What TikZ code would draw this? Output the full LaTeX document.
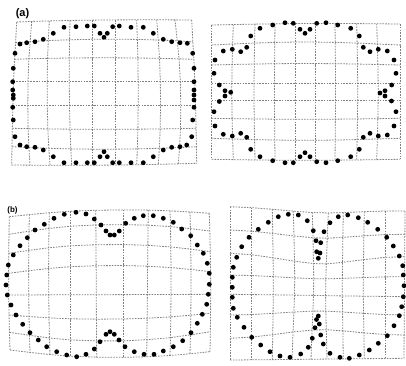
\documentclass[tikz,border=0pt]{standalone}
\usepackage{fontspec}
\setsansfont{Liberation Sans}
\tikzset{
  gridline/.style={draw=black!50, line width=0.8pt, dash pattern=on 1.6pt off 1.2pt},
  dotmark/.style={circle, fill=black, inner sep=0pt, minimum size=4.8pt},
  panellabel/.style={inner sep=0pt, font=\sffamily\bfseries}
}
% #1 name, #2 top x of columns, #3 bottom x of columns, #4 column bow,
% #5 left y of rows, #6 right y of rows, #7 row bow, #8 bow exponent
\newcommand\gridpanel[8]{%
  \foreach \i in {0,...,9}{%
    \foreach \j in {0,...,7}{%
      \pgfmathsetmacro\gu{\i/9}%
      \pgfmathsetmacro\gv{\j/7}%
      \pgfmathsetmacro\gx{{#2}[\i]+({#3}[\i]-{#2}[\i])*\gv+{#4}[\i]*sin(180*\gv)}%
      \pgfmathsetmacro\gy{{#5}[\j]+({#6}[\j]-{#5}[\j])*\gu+{#7}[\j]*pow(abs(sin(180*\gu)),#8)}%
      \coordinate (#1-\i-\j) at (\gx,\gy);
    }%
  }%
  \foreach \j in {0,...,7}{%
    \draw[gridline] (#1-0-\j) \foreach \i in {1,...,9}{ -- (#1-\i-\j)};
  }%
  \foreach \i in {0,...,9}{%
    \draw[gridline] (#1-\i-0) \foreach \j in {1,...,7}{ -- (#1-\i-\j)};
  }%
}
\newcommand\dotset[2]{%
  \foreach \px/\py [count=\k] in {#2}{\node[dotmark] (#1-d\k) at (\px,\py) {};}%
}
\begin{document}
\begin{tikzpicture}[x=1pt,y=-1pt]
\useasboundingbox (0,0) rectangle (406,365);
\fill[white] (0,0) rectangle (406,365);

% ---------- (a) left ----------
\gridpanel{A}
 {16.7,31.7,49.3,70,92.7,115,136.7,156.7,175,191.7}
 {11.7,30,50,71.7,92.7,115,136.7,158.3,178.3,196.7}
 {-1,-3,-2.5,-1.5,0,0,1.5,3,4,1}
 {22,42.7,59.3,81,105,128.3,146.7,165}
 {20,41.7,59.3,81,105,128.3,146.7,163.3}
 {-1,-3,-1.5,0,0,1,2.5,1}
 {1}
\dotset{A}{53.3/33.3,64/27.3,76/26.7,87.3/26,94.3/26,100/33.3,104/37.3,107.3/33.3,112.7/26.7,119.3/26,131/27.3,143.3/27.3,153.3/33.3,
163.3/39.3,171.7/41.7,180/42.7,187.3/43.3,192.7/53.3,194/68.3,194/81.7,194/90,194/95,194/100,194/107.3,192.7/120,191.7/136.7,186.7/145,180/146.7,171.7/147.3,163.3/150,153.3/156.7,
143.3/162.7,131/162.7,119.3/162.7,112.7/162.7,107.3/156.7,104/151.7,100/156.7,94.3/162.7,87.3/162.7,76/162.7,64/162.7,53.3/156.7,
43.3/150,35/147.3,26.7/146.7,20/145,15/136.7,13.3/120,12.7/107.3,13.3/98.3,13.3/95,12.7/90,12.7/81.7,13.3/68.3,15/53.3,20/44,26.7/42.7,35/41.7,43.3/39.3}

% ---------- (a) right ----------
\gridpanel{B}
 {211.7,233.3,255,275,295,315,335,356.7,376.7,400}
 {211.7,233.3,255,275,295,315,335,356.7,376.7,400}
 {0,-1.5,-1,-0.5,0,0,0.5,1,1.5,0}
 {25,45,65,83.3,100,118.3,138.3,159.3}
 {24,45,65,83.3,100,118.3,138.3,159.3}
 {-1,-3,-1.5,0,0,1,2,1}
 {1}
\dotset{B}{250.7/36,260/28.3,272.7/25,285/22.7,293.3/23.3,300/29.3,305/33.3,310/29.3,316.7/23.3,326/22.7,337.7/25,350.7/28.3,359.3/36,
363.3/47.3,370/51.7,378.3/49.3,387.3/51,394/60,396/73.3,391.7/85,385/90.7,380/93,385/96,391.5/101,396/111.7,394/126,
387.3/135,378.3/136,370/133.3,363.3/137.3,359.3/149.3,350.7/156.7,337.7/160.7,326/162.7,316.7/161.7,310/156.7,305/152.7,300/156.7,293.3/162.7,285/162.7,272.7/160.7,260/156.7,250.7/149.3,
246.7/137.3,240.7/133.3,232.3/136,223.3/134.3,215/126,214/111.7,219.3/101.5,225/96,230.7/92.3,225/90.7,219.3/85,214/73.3,215/60,223.3/51,232.3/49.3,240.7/51.7,246.7/47.3}

% ---------- (b) left ----------
\gridpanel{C}
 {9.3,29.3,49.3,70,95.7,123.3,148.3,170,190,209.3}
 {10,30,50,70,96.7,123.3,146.7,170,190,210}
 {-1,-1,-1,0,0,0,0,1,1,1}
 {216.7,234.3,253.3,273.3,295,315,332.3,350}
 {213.3,231,251.7,271.7,294.3,313.3,331.7,351.7}
 {-5,-8,-8,-7,0,5,9,6.5}
 {1}
\dotset{C}{6/285,6.7/275,8.3/265,13.3/255,20/245.7,27.3/237.7,35/230,44.3/224.3,54/218.3,64.3/214.3,76/212.3,86/214,94.3/219,101/225,106/231,110/235,114.3/235,119.3/231,125.7/223.3,134.3/218.3,143.3/215.7,153.3/215.7,163.3/218.3,173.3/222.3,181.7/229,190.7/235.7,197.3/245,203.3/253.3,207.3/263.3,209.3/273.3,209.3/284.3,208.3/294.3,206.7/304.3,202.3/314.3,197.3/323.3,191/332.7,182.7/340.7,173.3/346.7,163.3/351,154/354.3,144/354.3,134.3/351.7,125/346.7,119/340,114.3/334.3,110/331.7,106/334.3,100/341.7,94.3/349,86/354.3,76.7/356.7,66.7/355,56.7/351.7,46.7/346.7,38.3/340,30/332.7,22.7/324.3,16/315,11/305,7.3/295}

% ---------- (b) right ----------
\gridpanel{D}
 {230,251.7,272.3,293.3,312.3,328.3,343.3,364.3,385,405}
 {230,251.7,272.3,292,311,327,343.3,364.3,385,404}
 {0,0,1,2,2,-2,-1,-1,0,0}
 {206.7,230,253.3,275,294.3,315,338.3,360}
 {211,234.3,256.7,276.7,296.7,315,335,358.3}
 {4,6,9,3,0,-4,-7,0}
 {2}
\dotset{D}{313.3/230.7,307.3/220.7,298.3/215,288.3/214.3,278.3/216.7,268.3/222.3,258.3/229.3,249/237.3,241.7/246.7,236.7/257.3,233.3/267.3,232.3/277.3,232.3/287.3,232.3/297.3,233.3/308.3,237.3/317.3,244/327.3,251.7/337.3,260.7/345,270/351.7,280/356,290/357.3,300.7/354,308.3/347.3,312.3/338.3,315/327.7,316.5/319.5,318.3/316,
319.3/324,320.7/335,323.3/344,330/353.3,340/357.3,349.3/358.3,359.3/355,369.3/350,378.3/343.3,387.3/335.7,394/325.7,399.3/315.7,401.7/306.7,403.3/296.7,404/285.7,403.3/275,402.7/265.7,399.3/256,393.3/246,386.7/237.3,377.7/229.3,367.7/222.3,358.3/217.7,347.7/215,338.3/216.7,330/222.7,324/231.7,
320.7/242.7,320/253,318.3/258.3,316.7/251.7,316/240.7}

% ---------- labels ----------
\node[panellabel, font=\sffamily\bfseries\fontsize{11}{11}\selectfont] (la) at (22.5,13.5) {(a)};
\node[panellabel, font=\sffamily\bfseries\fontsize{8}{8}\selectfont] (lb) at (12.5,210) {(b)};
\end{tikzpicture}
\end{document}
